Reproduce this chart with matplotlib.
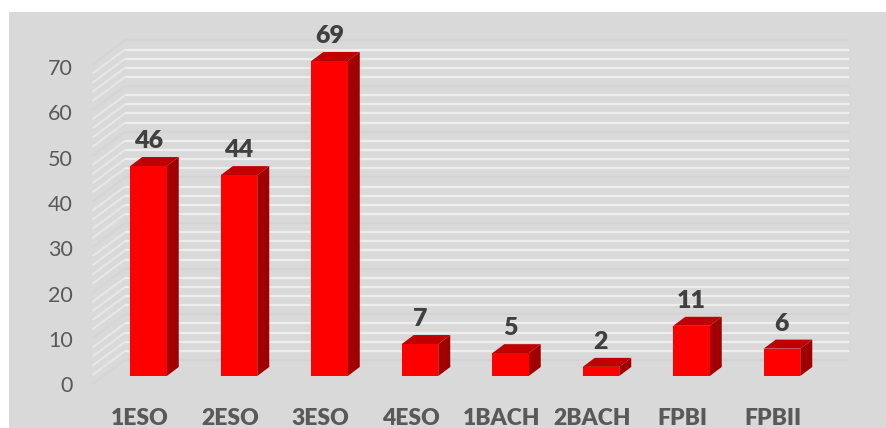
#!/usr/bin/env python3

import matplotlib
matplotlib.use('Agg')
import matplotlib.pyplot as plt
from matplotlib.patches import Polygon, Rectangle
from matplotlib.transforms import ScaledTranslation

categories = ['1ESO', '2ESO', '3ESO', '4ESO', '1BACH', '2BACH', 'FPBI', 'FPBII']
values = [46, 44, 69, 7, 5, 2, 11, 6]
y_ticks = [0, 10, 20, 30, 40, 50, 60, 70]
minor_ticks = [v for v in range(0, 70, 2) if v % 10 != 0]

W, H = 886, 428
plt.rcParams['font.family'] = ['Lato', 'DejaVu Sans']

fig = plt.figure(figsize=(W / 100, H / 100), dpi=100, facecolor='white')
fig.patches.append(Rectangle((9 / W, 0), 1, 1 - 12 / H, transform=fig.transFigure,
                             facecolor='#d9d9d9', edgecolor='none', zorder=-1))

# axes = plane of the bars' front faces, the 3D depth is faked with offsets
ax = fig.add_axes([103.25 / W, 1 - 376 / H, 724 / W, 319.55 / H])
ax.set_xlim(-0.5, 7.5)
ax.set_ylim(0, 70)
ax.patch.set_alpha(0)
for s in ax.spines.values():
    s.set_visible(False)

ux = 90.5   # px per category
uy = 319.55 / 70   # px per unit


def wall_line(v, color_back, color_side, lw):
    # side wall then back wall of the 3D box
    xs = [-0.5 - 10.7 / ux, -0.5 + 21.75 / ux]
    ys = [v - 8 / uy, v + 16 / uy]
    ax.plot(xs, ys, color=color_side, lw=lw, clip_on=False, zorder=1, solid_capstyle='butt')
    ax.plot([-0.5 + 21.75 / ux, 7.5 + 21.75 / ux], [v + 16 / uy] * 2, color=color_back, lw=lw,
            clip_on=False, zorder=1, solid_capstyle='butt')


for v in y_ticks:
    wall_line(v, '#d4d4d4', '#d5d5d5', 1.5)
for v in minor_ticks:
    wall_line(v, '#eeeeee', '#e6e6e6', 1.6)

# bars
bar_w = 36.5 / ux
dx = 12 / ux
dy = 9 / uy
ax.bar(range(len(values)), values, width=bar_w, color='#ff0000', zorder=4, clip_on=False)
for i, v in enumerate(values):
    l, r = i - bar_w / 2, i + bar_w / 2
    ax.add_patch(Polygon([(l, v), (r, v), (r + dx, v + dy), (l + dx, v + dy)], closed=True,
                         facecolor='#c00000', edgecolor='none', zorder=3, clip_on=False))
    ax.add_patch(Polygon([(r, 0), (r + dx, dy), (r + dx, v + dy), (r, v)], closed=True,
                         facecolor='#a00000', edgecolor='none', zorder=3, clip_on=False))
    ax.annotate(str(v), xy=(i, v), xytext=(0, 18), textcoords='offset pixels',
                ha='center', va='baseline', fontsize=18, fontweight='heavy', color='#404040',
                annotation_clip=False, zorder=5)

ax.set_xticks(range(len(categories)))
ax.set_xticklabels(categories, fontsize=16.5, fontweight='heavy', color='#595959')
ax.set_yticks(y_ticks)
ax.set_yticklabels([str(v) for v in y_ticks], fontsize=15.5, color='#595959')
ax.tick_params(axis='both', length=0)
ax.tick_params(axis='x', pad=23)
ax.tick_params(axis='y', pad=22)

# tick labels sit off the bar plane
for lab in ax.get_xticklabels():
    lab.set_transform(lab.get_transform() + ScaledTranslation(-9 / 100, 0, fig.dpi_scale_trans))
for lab, v in zip(ax.get_yticklabels(), y_ticks):
    shift = (8 + 0.04 * v) / 100
    lab.set_transform(lab.get_transform() + ScaledTranslation(0, -shift, fig.dpi_scale_trans))

plt.savefig('out.png', dpi=100)
